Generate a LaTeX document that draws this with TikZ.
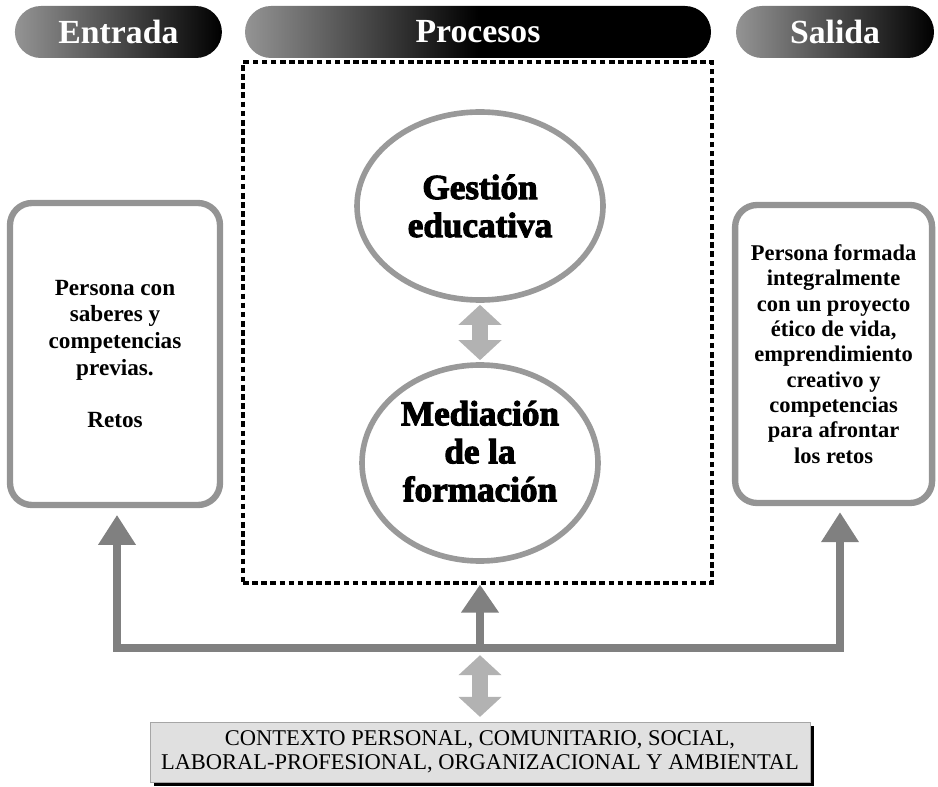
\documentclass[tikz,border=0pt]{standalone}
\usepackage{fontspec}
\setmainfont{Liberation Serif}
\newfontfamily\heavyfont{Liberation Serif}[BoldFeatures={FakeBold=3}]
\usepackage{tikz}
\usetikzlibrary{shapes.geometric, arrows.meta, positioning, calc, shadows}

\begin{document}
\begin{tikzpicture}
    \tikzstyle{header} = [rectangle, rounded corners=0.65cm, minimum height=1.3cm, text=white, font=\fontsize{24}{28}\selectfont\bfseries, left color=black!42, middle color=black!75, right color=black]
    \tikzstyle{person} = [rectangle, rounded corners=0.55cm, draw=black!42, line width=4.5pt, align=center, inner sep=2pt]
    \tikzstyle{stage} = [ellipse, draw=black!40, line width=4pt, align=center, inner sep=0pt, font=\fontsize{25}{27}\selectfont\heavyfont\bfseries]
    \tikzstyle{process} = [rectangle, draw=black, line width=2.2pt, dash pattern=on 4pt off 2.5pt]
    \tikzstyle{context} = [rectangle, draw=black!35, fill=black!12, align=center, font=\fontsize{16}{17}\selectfont, drop shadow={shadow xshift=0.1cm, shadow yshift=-0.1cm, fill=black, opacity=1}]
    \tikzstyle{feedback} = [line width=0.18cm, draw=black!50, {Triangle[width=0.9cm,length=0.75cm]}-{Triangle[width=0.9cm,length=0.75cm]}]
    \tikzstyle{arrow} = [line width=0.2cm, draw=black!50, -{Triangle[width=0.9cm,length=0.7cm]}]
    \tikzstyle{dblarrow} = [line width=0.42cm, draw=black!30, {Triangle[width=1.05cm,length=0.5cm]}-{Triangle[width=1.05cm,length=0.5cm]}]

    \useasboundingbox (0,0) rectangle (23.45,19.65);

    \node[header, minimum width=5.175cm] (entrada) at (2.96,18.85) {Entrada};
    \node[header, minimum width=11.65cm, middle color=black] (procesos) at (11.95,18.85) {Procesos};
    \node[header, minimum width=4.95cm] (salida) at (20.875,18.85) {Salida};

    \node[process, minimum width=11.725cm, minimum height=13.025cm] (proc) at (11.9375,11.5875) {};

    \node[person, minimum width=5.25cm, minimum height=7.55cm, font=\fontsize{16.5}{19}\selectfont\bfseries] (inbox) at (2.875,10.8)
        {Persona con\\ saberes y\\ competencias\\ previas.\\[18.5pt] Retos};
    \node[person, minimum width=4.925cm, minimum height=7.45cm, font=\fontsize{16}{18}\selectfont\bfseries] (outbox) at (20.84,10.8)
        {Persona formada\\ integralmente\\ con un proyecto\\ ético de vida,\\ emprendimiento\\ creativo y\\ competencias\\ para afrontar\\ los retos};

    \node[stage, minimum width=6.15cm, minimum height=4.7cm] (gestion) at (12.0,14.5) {Gestión\\ educativa};
    \node[stage, minimum width=5.9cm, minimum height=4.9cm] (mediacion) at (12.0,8.075) {Mediación\\ de la\\ formación\\[-10pt] \mbox{}};

    \node[context, minimum width=16.5cm, minimum height=1.5cm] (contexto) at (12.0,0.85)
        {CONTEXTO PERSONAL, COMUNITARIO, SOCIAL,\\ LABORAL-PROFESIONAL, ORGANIZACIONAL Y AMBIENTAL};

    \coordinate (barL) at (2.925,3.45);
    \coordinate (barM) at (12.0,3.45);
    \coordinate (barR) at (21.0,3.45);

    \draw[feedback, shorten <=0.17cm, shorten >=0.15cm] (inbox.south -| barL) -- (barL) -- (barR) -- (outbox.south -| barR);
    \draw[arrow] (barM) -- (barM |- proc.south);
    \draw[dblarrow, shorten <=0.05cm, shorten >=0.05cm] (gestion) -- (mediacion);
    \draw[dblarrow, shorten <=0.18cm, shorten >=0.12cm] (barM) -- (contexto);
\end{tikzpicture}
\end{document}
